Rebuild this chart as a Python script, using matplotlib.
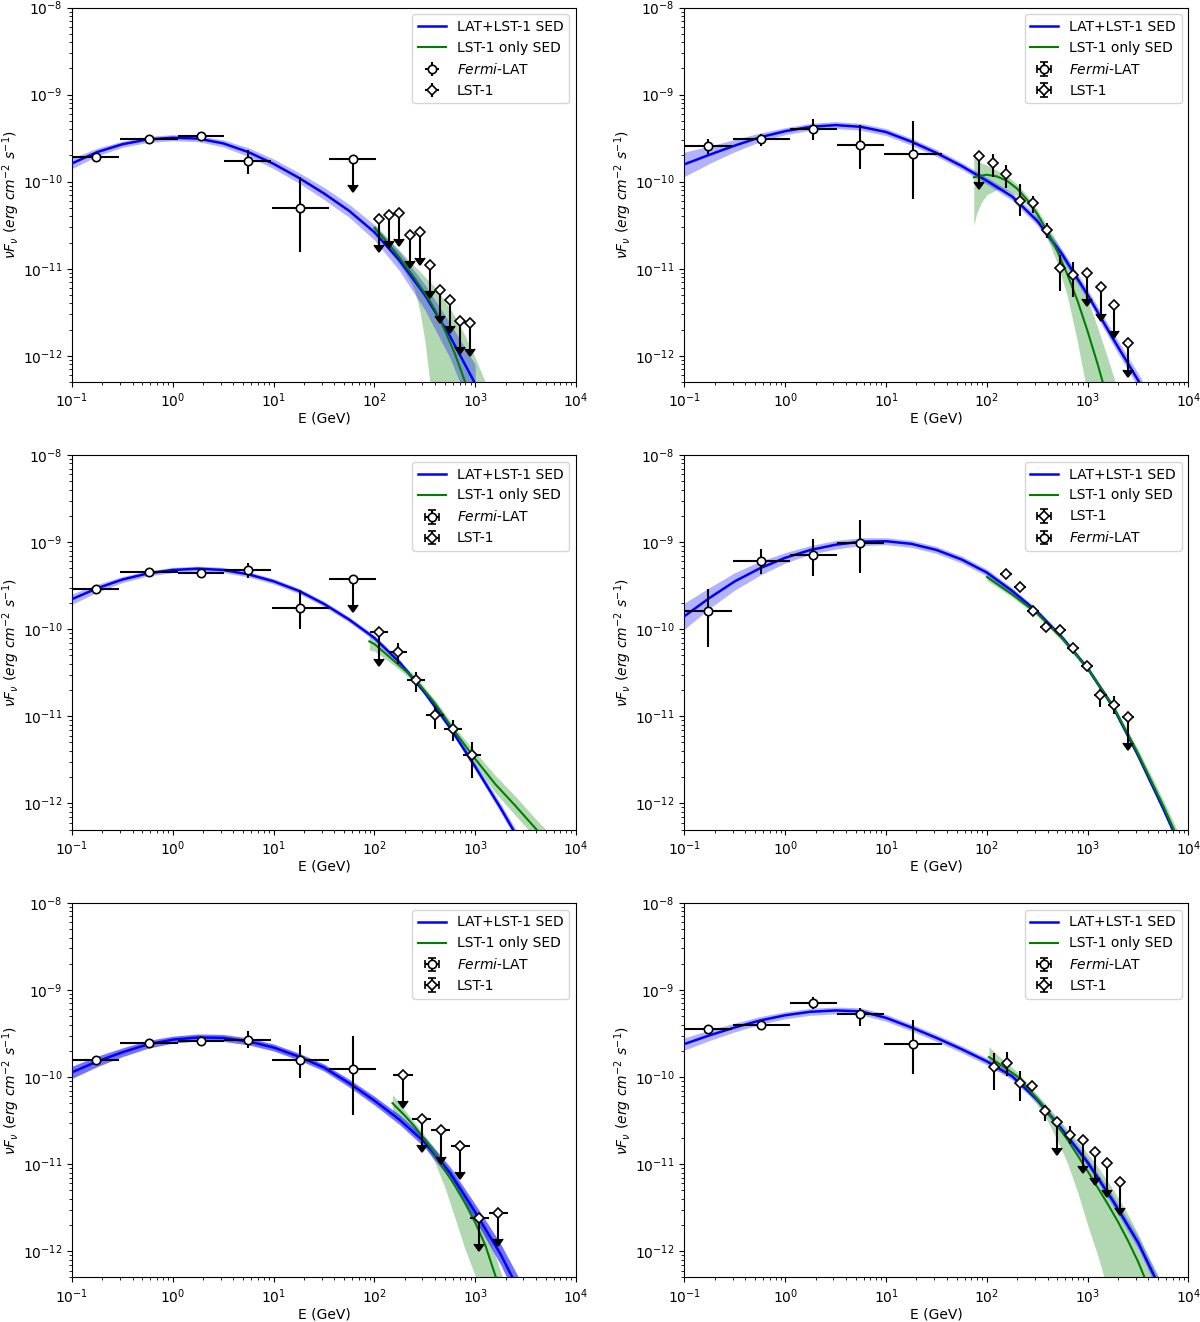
import numpy as np
import matplotlib
matplotlib.use("Agg")
import matplotlib.pyplot as plt

# Fermi-LAT energy bins (GeV), same binning in every panel
fermi_E = [0.172, 0.575, 1.89, 5.55, 18.4, 60.7]
fermi_E_lo = [0.1, 0.30, 1.12, 3.23, 9.6, 35.5]
fermi_E_hi = [0.295, 1.12, 3.23, 9.5, 35.5, 104.0]

# log10(E) grid of the joint LAT+LST-1 model curves
blue_logE = [-1.0, -0.75, -0.5, -0.25, 0.0, 0.25, 0.5, 0.75, 1.0, 1.25, 1.5,
             1.75, 2.0, 2.25, 2.5, 2.75, 3.0, 3.25, 3.5, 3.75, 4.0]

# ---------------- panel 1 ----------------
p1_fermi_F = [1.92e-10, 3.09e-10, 3.35e-10, 1.74e-10, 5.0e-11, 1.83e-10]
p1_fermi_lo = [1.79e-10, 2.92e-10, 3.02e-10, 1.24e-10, 1.56e-11, 1.83e-10]
p1_fermi_hi = [2.06e-10, 3.27e-10, 3.72e-10, 2.33e-10, 1.14e-10, 1.83e-10]
p1_fermi_ul = [0, 0, 0, 0, 0, 1]
p1_lst_E = [111, 141, 177, 224, 281, 353, 444, 558, 701, 881]
p1_lst_F = [3.72e-11, 4.14e-11, 4.40e-11, 2.44e-11, 2.66e-11, 1.10e-11,
            5.68e-12, 4.37e-12, 2.53e-12, 2.40e-12]
p1_lst_ul = [1, 1, 1, 1, 1, 1, 1, 1, 1, 1]
p1_blue = [-9.79, -9.66, -9.57, -9.515, -9.495, -9.505, -9.56, -9.66, -9.795,
           -9.955, -10.135, -10.335, -10.58, -10.905, -11.30, -11.775, -12.32]
p1_blue_lo = [-9.85, -9.705, -9.605, -9.55, -9.53, -9.54, -9.60, -9.71, -9.85,
              -10.015, -10.205, -10.41, -10.67, -11.025, -11.47, -12.025, -12.74]
p1_blue_hi = [-9.73, -9.615, -9.535, -9.48, -9.46, -9.47, -9.52, -9.61, -9.74,
              -9.895, -10.065, -10.26, -10.495, -10.805, -11.18, -11.625, -12.10]
p1_green_logE = [2.0, 2.1, 2.2, 2.3, 2.35, 2.4, 2.45, 2.5, 2.55, 2.6, 2.7, 2.8,
                 2.9, 3.0, 3.1, 3.2]
p1_green = [-10.53, -10.66, -10.80, -10.95, -11.03, -11.11, -11.195, -11.28,
            -11.37, -11.47, -11.71, -11.98, -12.30, -12.66, -13.05, -13.5]
p1_green_lo = [-10.58, -10.72, -10.87, -11.04, -11.13, -11.25, -11.48, -11.82,
               -12.30, -12.85, -13.5, -14.0, -14.5, -15.0, -15.5, -16.0]
p1_green_hi = [-10.49, -10.61, -10.73, -10.85, -10.91, -10.97, -11.03, -11.09,
               -11.15, -11.21, -11.37, -11.55, -11.77, -12.02, -12.30, -12.60]

# ---------------- panel 2 ----------------
p2_fermi_F = [2.57e-10, 3.12e-10, 4.06e-10, 2.66e-10, 2.10e-10]
p2_fermi_lo = [2.06e-10, 2.55e-10, 2.99e-10, 1.41e-10, 6.4e-11]
p2_fermi_hi = [3.12e-10, 3.56e-10, 5.30e-10, 4.45e-10, 4.93e-10]
p2_fermi_ul = [0, 0, 0, 0, 0]
p2_lst_E = [83.6, 114, 155, 213, 288, 394, 535, 720, 991, 1355, 1837, 2495]
p2_lst_F = [1.97e-10, 1.63e-10, 1.21e-10, 6.04e-11, 5.64e-11, 2.79e-11,
            1.03e-11, 8.47e-12, 9.0e-12, 6.1e-12, 3.83e-12, 1.39e-12]
p2_lst_lo = [1.97e-10, 1.14e-10, 8.5e-11, 4.07e-11, 4.37e-11, 2.24e-11,
             5.5e-12, 4.8e-12, 9.0e-12, 6.1e-12, 3.83e-12, 1.39e-12]
p2_lst_hi = [1.97e-10, 2.07e-10, 1.55e-10, 9.3e-11, 6.76e-11, 3.39e-11,
             1.45e-11, 1.2e-11, 9.0e-12, 6.1e-12, 3.83e-12, 1.39e-12]
p2_lst_ul = [1, 0, 0, 0, 0, 0, 0, 0, 1, 1, 1, 1]
p2_blue = [-9.80, -9.69, -9.585, -9.49, -9.42, -9.37, -9.35, -9.37, -9.43,
           -9.54, -9.67, -9.82, -9.99, -10.17, -10.45, -10.84, -11.30, -11.80,
           -12.28, -12.8]
p2_blue_lo = [-9.94, -9.79, -9.655, -9.54, -9.46, -9.41, -9.39, -9.41, -9.47,
              -9.58, -9.71, -9.86, -10.03, -10.215, -10.50, -10.895, -11.36,
              -11.87, -12.36, -12.89]
p2_blue_hi = [-9.66, -9.59, -9.515, -9.44, -9.38, -9.33, -9.31, -9.33, -9.39,
              -9.50, -9.63, -9.78, -9.95, -10.125, -10.40, -10.785, -11.24,
              -11.73, -12.20, -12.71]
p2_green_logE = [1.87, 1.9, 1.95, 2.0, 2.1, 2.2, 2.3, 2.4, 2.5, 2.6, 2.7, 2.8,
                 2.9, 3.0, 3.1, 3.2, 3.3]
p2_green = [-9.95, -9.94, -9.93, -9.92, -9.94, -9.99, -10.08, -10.21, -10.37,
            -10.57, -10.80, -11.07, -11.37, -11.72, -12.10, -12.51, -12.95]
p2_green_lo = [-10.50, -10.36, -10.23, -10.15, -10.09, -10.10, -10.16, -10.27,
               -10.43, -10.65, -10.94, -11.32, -11.85, -12.45, -13.1, -13.8,
               -14.5]
p2_green_hi = [-9.72, -9.75, -9.79, -9.81, -9.87, -9.93, -10.03, -10.16,
               -10.32, -10.51, -10.70, -10.91, -11.13, -11.35, -11.68, -12.03,
               -12.40]

# ---------------- panel 3 ----------------
p3_fermi_F = [2.91e-10, 4.52e-10, 4.40e-10, 4.76e-10, 1.77e-10, 3.76e-10]
p3_fermi_lo = [2.72e-10, 4.27e-10, 4.10e-10, 3.85e-10, 1.0e-10, 3.76e-10]
p3_fermi_hi = [3.12e-10, 4.79e-10, 4.71e-10, 5.74e-10, 2.83e-10, 3.76e-10]
p3_fermi_ul = [0, 0, 0, 0, 0, 1]
p3_lst_E = [112, 170, 261, 396, 607, 929]
p3_lst_F = [9.2e-11, 5.42e-11, 2.58e-11, 1.04e-11, 7.1e-12, 3.57e-12]
p3_lst_lo = [9.2e-11, 3.94e-11, 1.90e-11, 7.2e-12, 5.2e-12, 1.96e-12]
p3_lst_hi = [9.2e-11, 6.87e-11, 3.24e-11, 1.30e-11, 9.0e-12, 5.1e-12]
p3_lst_ul = [1, 0, 0, 0, 0, 0]
p3_blue = [-9.655, -9.53, -9.43, -9.36, -9.32, -9.305, -9.32, -9.37, -9.45,
           -9.56, -9.71, -9.89, -10.10, -10.38, -10.73, -11.13, -11.58,
           -12.05, -12.55]
p3_blue_lo = [-9.715, -9.575, -9.465, -9.39, -9.35, -9.335, -9.35, -9.40,
              -9.48, -9.59, -9.74, -9.92, -10.13, -10.41, -10.76, -11.165,
              -11.62, -12.10, -12.61]
p3_blue_hi = [-9.595, -9.485, -9.395, -9.33, -9.29, -9.275, -9.29, -9.34,
              -9.42, -9.53, -9.68, -9.86, -10.07, -10.35, -10.70, -11.095,
              -11.54, -12.00, -12.49]
p3_green_logE = [1.95, 2.0, 2.2, 2.4, 2.6, 2.8, 3.0, 3.2, 3.4, 3.6, 3.7]
p3_green = [-10.14, -10.17, -10.37, -10.57, -10.85, -11.18, -11.49, -11.78,
            -12.03, -12.29, -12.42]
p3_green_lo = [-10.24, -10.25, -10.42, -10.61, -10.89, -11.23, -11.56, -11.88,
               -12.14, -12.40, -12.54]
p3_green_hi = [-10.06, -10.10, -10.32, -10.53, -10.81, -11.13, -11.41, -11.68,
               -11.92, -12.18, -12.30]

# ---------------- panel 4 ----------------
p4_fermi_F = [1.6e-10, 6.1e-10, 7.03e-10, 9.66e-10]
p4_fermi_lo = [6.2e-11, 4.29e-10, 4.1e-10, 4.41e-10]
p4_fermi_hi = [2.88e-10, 8.3e-10, 1.09e-9, 1.81e-9]
p4_fermi_ul = [0, 0, 0, 0]
p4_lst_E = [155, 211, 285, 388, 530, 718, 977, 1340, 1834, 2495]
p4_lst_F = [4.28e-10, 3.04e-10, 1.63e-10, 1.05e-10, 9.8e-11, 6.05e-11,
            3.79e-11, 1.76e-11, 1.35e-11, 9.9e-12]
p4_lst_lo = [3.99e-10, 2.84e-10, 1.52e-10, 9.8e-11, 9.15e-11, 5.65e-11,
             3.54e-11, 1.29e-11, 1.07e-11, 9.9e-12]
p4_lst_hi = [4.59e-10, 3.26e-10, 1.75e-10, 1.12e-10, 1.05e-10, 6.48e-11,
             4.06e-11, 2.05e-11, 1.7e-11, 9.9e-12]
p4_lst_ul = [0, 0, 0, 0, 0, 0, 0, 0, 0, 1]
p4_blue = [-9.85, -9.64, -9.45, -9.30, -9.18, -9.09, -9.03, -8.995, -8.99,
           -9.02, -9.09, -9.20, -9.35, -9.56, -9.80, -10.10, -10.45, -10.89,
           -11.45, -12.06, -12.70]
p4_blue_lo = [-10.00, -9.76, -9.55, -9.38, -9.24, -9.14, -9.08, -9.04, -9.03,
              -9.06, -9.13, -9.24, -9.39, -9.595, -9.83, -10.13, -10.48,
              -10.925, -11.49, -12.11, -12.76]
p4_blue_hi = [-9.70, -9.52, -9.35, -9.22, -9.12, -9.04, -8.98, -8.95, -8.95,
              -8.98, -9.05, -9.16, -9.31, -9.525, -9.77, -10.07, -10.42,
              -10.855, -11.41, -12.01, -12.64]
p4_green_logE = [2.0, 2.25, 2.5, 2.75, 3.0, 3.25, 3.5, 3.75, 4.0]
p4_green = [-9.40, -9.60, -9.82, -10.11, -10.45, -10.88, -11.43, -12.03, -12.68]
p4_green_lo = [-9.44, -9.63, -9.85, -10.14, -10.48, -10.91, -11.48, -12.10,
               -12.77]
p4_green_hi = [-9.36, -9.57, -9.79, -10.08, -10.42, -10.85, -11.38, -11.96,
               -12.59]

# ---------------- panel 5 ----------------
p5_fermi_F = [1.56e-10, 2.46e-10, 2.59e-10, 2.69e-10, 1.57e-10, 1.24e-10]
p5_fermi_lo = [1.46e-10, 2.30e-10, 2.26e-10, 2.15e-10, 9.75e-11, 3.69e-11]
p5_fermi_hi = [1.67e-10, 2.64e-10, 2.97e-10, 3.35e-10, 2.36e-10, 2.93e-10]
p5_fermi_ul = [0, 0, 0, 0, 0, 0]
p5_lst_E = [192, 296, 456, 711, 1096, 1690]
p5_lst_F = [1.07e-10, 3.29e-11, 2.44e-11, 1.61e-11, 2.42e-12, 2.74e-12]
p5_lst_ul = [1, 1, 1, 1, 1, 1]
p5_blue = [-9.945, -9.82, -9.715, -9.625, -9.57, -9.545, -9.55, -9.59, -9.66,
           -9.765, -9.89, -10.07, -10.27, -10.49, -10.75, -11.10, -11.55,
           -12.03, -12.60]
p5_blue_lo = [-10.015, -9.88, -9.765, -9.67, -9.61, -9.585, -9.59, -9.63,
              -9.70, -9.805, -9.93, -10.115, -10.32, -10.545, -10.81, -11.17,
              -11.64, -12.15, -12.75]
p5_blue_hi = [-9.875, -9.76, -9.665, -9.58, -9.53, -9.505, -9.51, -9.55,
              -9.62, -9.725, -9.85, -10.025, -10.22, -10.435, -10.69, -11.03,
              -11.46, -11.91, -12.45]
p5_green_logE = [2.18, 2.3, 2.4, 2.5, 2.6, 2.7, 2.8, 2.9, 3.0, 3.1, 3.2, 3.3]
p5_green = [-10.30, -10.44, -10.57, -10.72, -10.88, -11.07, -11.25, -11.45,
            -11.67, -11.93, -12.28, -12.65]
p5_green_lo = [-10.40, -10.50, -10.62, -10.78, -10.98, -11.27, -11.62, -11.98,
               -12.28, -12.6, -12.95, -13.3]
p5_green_hi = [-10.20, -10.38, -10.52, -10.67, -10.82, -10.99, -11.15, -11.33,
               -11.52, -11.75, -12.05, -12.4]

# ---------------- panel 6 ----------------
p6_fermi_F = [3.6e-10, 4.0e-10, 7.15e-10, 5.25e-10, 2.39e-10]
p6_fermi_lo = [3.28e-10, 3.6e-10, 6.12e-10, 3.82e-10, 1.09e-10]
p6_fermi_hi = [3.94e-10, 4.44e-10, 8.34e-10, 6.27e-10, 4.48e-10]
p6_fermi_ul = [0, 0, 0, 0, 0]
p6_lst_E = [119, 157, 213, 280, 379, 499, 667, 891, 1189, 1563, 2103]
p6_lst_F = [1.30e-10, 1.47e-10, 8.6e-11, 7.9e-11, 4.05e-11, 3.03e-11,
            2.16e-11, 1.9e-11, 1.39e-11, 1.02e-11, 6.3e-12]
p6_lst_lo = [7.1e-11, 1.03e-10, 5.25e-11, 6.9e-11, 3.09e-11, 3.03e-11,
             1.72e-11, 1.9e-11, 1.39e-11, 1.02e-11, 6.3e-12]
p6_lst_hi = [1.87e-10, 1.96e-10, 1.17e-10, 9.0e-11, 4.8e-11, 3.03e-11,
             2.72e-11, 1.9e-11, 1.39e-11, 1.02e-11, 6.3e-12]
p6_lst_ul = [0, 0, 0, 0, 0, 1, 0, 1, 1, 1, 1]
p6_blue = [-9.62, -9.52, -9.43, -9.35, -9.29, -9.25, -9.235, -9.245, -9.32,
           -9.43, -9.55, -9.68, -9.82, -9.99, -10.26, -10.61, -10.98, -11.42,
           -11.90, -12.50]
p6_blue_lo = [-9.69, -9.58, -9.48, -9.395, -9.33, -9.29, -9.275, -9.285,
              -9.36, -9.47, -9.59, -9.72, -9.86, -10.03, -10.30, -10.655,
              -11.03, -11.48, -11.97, -12.58]
p6_blue_hi = [-9.55, -9.46, -9.38, -9.305, -9.25, -9.21, -9.195, -9.205,
              -9.28, -9.39, -9.51, -9.64, -9.78, -9.95, -10.22, -10.565,
              -10.93, -11.36, -11.83, -12.42]
p6_green_logE = [2.02, 2.1, 2.2, 2.3, 2.4, 2.5, 2.6, 2.7, 2.8, 2.9, 3.0, 3.1,
                 3.2, 3.3, 3.4, 3.5, 3.6, 3.7, 3.8]
p6_green = [-9.77, -9.83, -9.91, -9.99, -10.12, -10.25, -10.39, -10.56, -10.72,
            -10.90, -11.08, -11.27, -11.46, -11.66, -11.88, -12.12, -12.40,
            -12.70, -13.0]
p6_green_lo = [-9.89, -9.93, -9.97, -10.04, -10.17, -10.32, -10.50, -10.73,
               -10.99, -11.32, -11.70, -12.05, -12.45, -12.85, -13.3, -13.7,
               -14.1, -14.5, -15.0]
p6_green_hi = [-9.65, -9.74, -9.84, -9.94, -10.07, -10.20, -10.33, -10.47,
               -10.60, -10.74, -10.88, -11.03, -11.20, -11.38, -11.58, -11.80,
               -12.05, -12.28, -12.55]

FERMI_LABEL = r"$\it{Fermi}$-LAT"

panels = [
    dict(fF=p1_fermi_F, flo=p1_fermi_lo, fhi=p1_fermi_hi, ful=p1_fermi_ul,
         lE=p1_lst_E, lF=p1_lst_F, llo=None, lhi=None, lul=p1_lst_ul, ldex=0.0,
         b=p1_blue, blo=p1_blue_lo, bhi=p1_blue_hi,
         gE=p1_green_logE, g=p1_green, glo=p1_green_lo, ghi=p1_green_hi,
         alpha=0.3, caps=0, lst_first=False),
    dict(fF=p2_fermi_F, flo=p2_fermi_lo, fhi=p2_fermi_hi, ful=p2_fermi_ul,
         lE=p2_lst_E, lF=p2_lst_F, llo=p2_lst_lo, lhi=p2_lst_hi, lul=p2_lst_ul,
         ldex=0.05, b=p2_blue, blo=p2_blue_lo, bhi=p2_blue_hi,
         gE=p2_green_logE, g=p2_green, glo=p2_green_lo, ghi=p2_green_hi,
         alpha=0.3, caps=3, lst_first=False),
    dict(fF=p3_fermi_F, flo=p3_fermi_lo, fhi=p3_fermi_hi, ful=p3_fermi_ul,
         lE=p3_lst_E, lF=p3_lst_F, llo=p3_lst_lo, lhi=p3_lst_hi, lul=p3_lst_ul,
         ldex=0.09, b=p3_blue, blo=p3_blue_lo, bhi=p3_blue_hi,
         gE=p3_green_logE, g=p3_green, glo=p3_green_lo, ghi=p3_green_hi,
         alpha=0.3, caps=3, lst_first=False),
    dict(fF=p4_fermi_F, flo=p4_fermi_lo, fhi=p4_fermi_hi, ful=p4_fermi_ul,
         lE=p4_lst_E, lF=p4_lst_F, llo=p4_lst_lo, lhi=p4_lst_hi, lul=p4_lst_ul,
         ldex=0.06, b=p4_blue, blo=p4_blue_lo, bhi=p4_blue_hi,
         gE=p4_green_logE, g=p4_green, glo=p4_green_lo, ghi=p4_green_hi,
         alpha=0.3, caps=3, lst_first=True),
    dict(fF=p5_fermi_F, flo=p5_fermi_lo, fhi=p5_fermi_hi, ful=p5_fermi_ul,
         lE=p5_lst_E, lF=p5_lst_F, llo=None, lhi=None, lul=p5_lst_ul,
         ldex=0.095, b=p5_blue, blo=p5_blue_lo, bhi=p5_blue_hi,
         gE=p5_green_logE, g=p5_green, glo=p5_green_lo, ghi=p5_green_hi,
         alpha=0.55, caps=3, lst_first=False),
    dict(fF=p6_fermi_F, flo=p6_fermi_lo, fhi=p6_fermi_hi, ful=p6_fermi_ul,
         lE=p6_lst_E, lF=p6_lst_F, llo=p6_lst_lo, lhi=p6_lst_hi, lul=p6_lst_ul,
         ldex=0.05, b=p6_blue, blo=p6_blue_lo, bhi=p6_blue_hi,
         gE=p6_green_logE, g=p6_green, glo=p6_green_lo, ghi=p6_green_hi,
         alpha=0.3, caps=3, lst_first=False),
]

PT = dict(mfc="white", mec="black", ecolor="black", elinewidth=1.5,
          mew=1.2, capsize=0, zorder=6)


def blacken(container, size=None):
    """errorbar caps / limit arrows in plain black"""
    for cl in container[1]:
        cl.set_color("black")
        cl.set_markerfacecolor("black")
        cl.set_markeredgecolor("black")
        if size is not None:
            cl.set_markersize(size)


def draw_points(ax, E, F, lo, hi, ul, xlo, xhi, marker, ms):
    E, F = np.asarray(E, float), np.asarray(F, float)
    lo = F if lo is None else np.asarray(lo, float)
    hi = F if hi is None else np.asarray(hi, float)
    ul = np.asarray(ul) == 1
    xlo, xhi = np.asarray(xlo, float), np.asarray(xhi, float)
    det = ~ul
    if det.any():  # measured points
        ax.errorbar(E[det], F[det],
                    xerr=[E[det] - xlo[det], xhi[det] - E[det]],
                    yerr=[F[det] - lo[det], hi[det] - F[det]],
                    fmt=marker, ms=ms, **PT)
    if ul.any():  # upper limits, arrow down to half the flux
        c = ax.errorbar(E[ul], F[ul],
                        xerr=[E[ul] - xlo[ul], xhi[ul] - E[ul]],
                        yerr=0.5 * F[ul], uplims=True,
                        fmt=marker, ms=ms, **PT)
        blacken(c, 7)


def draw_panel(ax, p):
    # LST-1 only model
    gE = 10 ** np.array(p["gE"])
    ax.fill_between(gE, 10 ** np.array(p["glo"]), 10 ** np.array(p["ghi"]),
                    color="green", alpha=0.3, lw=0, zorder=1)
    # joint LAT+LST-1 model
    bE = 10 ** np.array(blue_logE[:len(p["b"])])
    ax.fill_between(bE, 10 ** np.array(p["blo"]), 10 ** np.array(p["bhi"]),
                    color="blue", alpha=p["alpha"], lw=0, zorder=2)
    h_blue, = ax.plot(bE, 10 ** np.array(p["b"]), color="blue", lw=1.8,
                      zorder=3, label="LAT+LST-1 SED")
    h_green, = ax.plot(gE, 10 ** np.array(p["g"]), color="green", lw=1.5,
                       zorder=4, label="LST-1 only SED")

    n = len(p["fF"])
    draw_points(ax, fermi_E[:n], p["fF"], p["flo"], p["fhi"], p["ful"],
                fermi_E_lo[:n], fermi_E_hi[:n], "o", 6)
    lE = np.asarray(p["lE"], float)
    k = 10 ** p["ldex"]
    draw_points(ax, lE, p["lF"], p["llo"], p["lhi"], p["lul"],
                lE / k, lE * k, "D", 5)

    # legend proxies
    style = dict(mfc="white", mec="black", ecolor="black", mew=1.2,
                 capsize=p["caps"])
    h_f = ax.errorbar([np.nan], [np.nan], xerr=[1.0], yerr=[1.0], fmt="o",
                      ms=6, **style)
    h_l = ax.errorbar([np.nan], [np.nan], xerr=[1.0], yerr=[1.0], fmt="D",
                      ms=5, **style)
    blacken(h_f)
    blacken(h_l)
    if p["lst_first"]:
        handles = [h_blue, h_green, h_l, h_f]
        labels = ["LAT+LST-1 SED", "LST-1 only SED", "LST-1", FERMI_LABEL]
    else:
        handles = [h_blue, h_green, h_f, h_l]
        labels = ["LAT+LST-1 SED", "LST-1 only SED", FERMI_LABEL, "LST-1"]
    ax.legend(handles, labels, loc="upper right", fontsize=10)

    ax.set_xscale("log")
    ax.set_yscale("log")
    ax.set_xlim(0.1, 1e4)
    ax.set_ylim(5e-13, 1e-8)
    ax.set_xlabel("E (GeV)", labelpad=1)
    ax.set_ylabel(r"$\nu F_\nu\ (erg\ cm^{-2}\ s^{-1})$")
    ax.yaxis.set_label_coords(-0.1, 0.5)


fig = plt.figure(figsize=(12, 13.22), dpi=100)
lefts = [0.06, 0.5704]
bottoms = [0.711, 0.3725, 0.0337]
for i, p in enumerate(panels):
    ax = fig.add_axes([lefts[i % 2], bottoms[i // 2], 0.42, 0.2833])
    draw_panel(ax, p)

fig.savefig("out.png", dpi=100)
